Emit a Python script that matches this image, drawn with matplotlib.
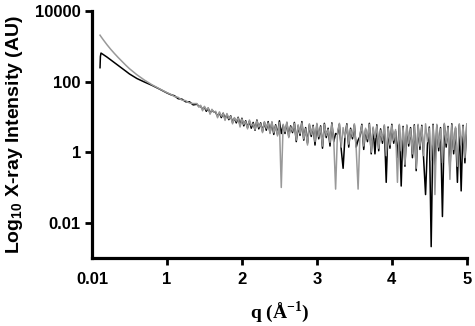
import numpy as np
import matplotlib
matplotlib.use('Agg')
import matplotlib.pyplot as plt
from matplotlib.ticker import FixedLocator, FixedFormatter, NullLocator

plt.rcParams['font.family'] = ['Liberation Sans', 'DejaVu Sans']
plt.rcParams['mathtext.fontset'] = 'custom'
plt.rcParams['mathtext.rm'] = 'Liberation Sans'
plt.rcParams['mathtext.bf'] = 'Liberation Serif:bold'
plt.rcParams['mathtext.sf'] = 'Liberation Sans:bold'

# low-q part (smooth)
q_head_gray = [0.107, 0.12, 0.15, 0.2, 0.25, 0.3, 0.35, 0.4, 0.45, 0.5, 0.6,
               0.7, 0.8, 0.9, 1.0, 1.05, 1.1, 1.15, 1.2, 1.25, 1.3, 1.35]
i_head_gray = [2090, 1900, 1550, 1120, 830, 630, 484, 376, 295, 234, 157,
               111, 82, 63, 49, 44, 38, 36, 30, 29, 25, 24]

q_head_black = [0.107, 0.112, 0.12, 0.13, 0.15, 0.2, 0.25, 0.3, 0.35, 0.4, 0.45, 0.5,
                0.6, 0.7, 0.8, 0.9, 1.0, 1.05, 1.1, 1.15, 1.2, 1.25, 1.3, 1.35]
i_head_black = [250, 520, 650, 630, 590, 500, 417, 347, 288, 240, 200, 166,
                123, 98, 79, 62, 48, 43, 40, 33, 32, 27, 27, 22]

# high-q part (noisy), sampled every 0.025 from 1.4 to 5.0
q_tail = np.linspace(1.4, 5.0, 145)

i_tail_gray = [
    24, 19, 21.5, 15, 20, 16, 18, 12,
    16.5, 13.5, 14.5, 9.5, 14, 10.5, 12.5, 8,
    12.5, 9, 10.5, 6.4, 9.6, 7.6, 9.4, 5.2,
    8.8, 6.2, 7.4, 4.6, 8.2, 5.6, 6.4, 4.4,
    7.8, 5.2, 6.4, 3.6, 7.4, 4.8, 6.8, 3.4,
    7.4, 3.6, 5.6, 2.9, 7, 0.1, 6.2, 3.8,
    7.2, 2.6, 5.2, 4, 6.6, 2.2, 6, 3.4,
    6.8, 2.4, 4.6, 1.6, 6.4, 3.2, 5.4, 2,
    6.6, 2.8, 5.2, 1.5, 6.2, 3, 4.4, 1.9,
    6.4, 2.2, 0.09, 3.6, 6.6, 1.4, 5, 2.6,
    6, 1.7, 4.4, 2.8, 6.4, 1.2, 0.09, 3.2,
    5.8, 1.5, 4.8, 2.4, 6.2, 1, 5.2, 2.6,
    5.6, 1.3, 4.2, 2.2, 6, 0.8, 4.8, 1.6,
    5.8, 2.2, 4.4, 0.14, 6.2, 1.1, 5, 0.45,
    6, 1.8, 4.6, 0.9, 5.6, 0.35, 6.2, 1.5,
    5.4, 0.8, 6.4, 2, 4.8, 0.6, 5.8, 0.063,
    6.2, 1.4, 4.6, 0.5, 6.6, 1.8, 5, 0.17,
    6, 1.2, 5.2, 0.4, 6.4, 1.6, 5.4, 0.7,
    6.4,
]

i_tail_black = [
    23, 20, 20, 16.5, 19, 14.5, 17.8, 13,
    15.5, 14, 13.5, 10.5, 13, 9.6, 12.8, 8.8,
    11.8, 8.4, 10.8, 7, 9.2, 6.8, 9.8, 5.8,
    9.2, 5.6, 7.8, 5, 7.6, 4.8, 7, 4.2,
    8.2, 4.6, 6.8, 3.9, 7, 4.2, 7.4, 3.6,
    7, 3.2, 6, 3.2, 7.8, 3.4, 5.8, 3.4,
    6.8, 2.8, 5.6, 3.6, 7, 2, 5.6, 3,
    7.4, 2.2, 5, 1.8, 6, 2.8, 5.8, 1.6,
    6.2, 2.4, 5.6, 1.3, 6.6, 2.6, 4.8, 1.5,
    6.8, 2, 3.4, 3.2, 6.2, 1.2, 0.35, 2.8,
    6.4, 1.4, 4.8, 2.4, 6, 1.4, 2.2, 2.8,
    6.2, 1.2, 4.4, 2, 6.6, 0.9, 4.8, 0.9,
    6, 1.1, 4.6, 1.8, 5.6, 0.14, 5.2, 1.3,
    6.2, 1.8, 4, 0.7, 5.8, 0.11, 5.4, 0.4,
    5.6, 1.5, 5, 0.7, 6, 0.3, 5.8, 1.2,
    5.8, 0.6, 0.063, 1.6, 5.2, 0.0021, 6.2, 0.35,
    5.8, 1.1, 5, 0.015, 6.2, 1.4, 5.4, 0.3,
    6.4, 0.9, 4.8, 0.14, 6, 0.08, 5.8, 0.5,
    6,
]

y_ticks = [10000, 100, 1, 0.01]
y_tick_labels = ['10000', '100', '1', '0.01']
x_ticks = [0, 1, 2, 3, 4, 5]
x_tick_labels = ['0.01', '1', '2', '3', '4', '5']

q_black = np.concatenate([q_head_black, q_tail])
i_black = np.concatenate([i_head_black, i_tail_black])
q_gray = np.concatenate([q_head_gray, q_tail])
i_gray = np.concatenate([i_head_gray, i_tail_gray])

fig = plt.figure(figsize=(4.75, 3.26), dpi=100)
ax = fig.add_axes([0.1937, 0.2086, 0.789, 0.757])

ax.plot(q_black, i_black, color='black', linewidth=1.1)
ax.plot(q_gray, i_gray, color='#999999', linewidth=1.1)

ax.set_yscale('log')
ax.set_xlim(0, 5)
ax.set_ylim(0.001, 10000)

ax.yaxis.set_major_locator(FixedLocator(y_ticks))
ax.yaxis.set_major_formatter(FixedFormatter(y_tick_labels))
ax.yaxis.set_minor_locator(NullLocator())
ax.xaxis.set_major_locator(FixedLocator(x_ticks))
ax.xaxis.set_major_formatter(FixedFormatter(x_tick_labels))

for side in ['top', 'right']:
    ax.spines[side].set_visible(False)
for side in ['left', 'bottom']:
    ax.spines[side].set_linewidth(2.3)

ax.tick_params(axis='both', which='major', width=2, length=5, direction='out',
               labelsize=12)
ax.tick_params(axis='y', pad=3)
ax.tick_params(axis='x', pad=5)
for lab in ax.get_xticklabels() + ax.get_yticklabels():
    lab.set_fontweight('bold')
ax.xaxis.get_major_ticks()[0].tick1line.set_visible(False)

ax.set_ylabel(r'Log$_{\mathsf{10}}$ X-ray Intensity (AU)', fontsize=14,
              fontweight='bold', labelpad=7)
ax.set_xlabel(r'q (Å$^{\mathbf{-1}}$)', fontsize=14, fontweight='bold',
              family='Liberation Serif', labelpad=9)

plt.savefig('out.png', dpi=100)
